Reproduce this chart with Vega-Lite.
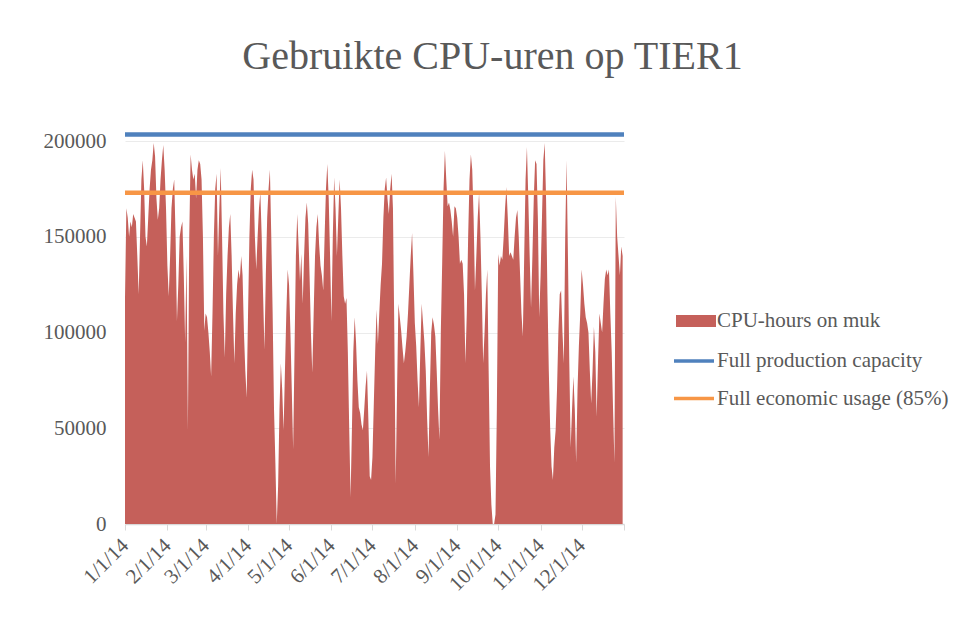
{
  "$schema": "https://vega.github.io/schema/vega-lite/v6.json",
  "width": 499,
  "height": 402,
  "autosize": {"type": "none"},
  "padding": {"left": 125, "top": 122, "right": 334, "bottom": 110},
  "background": "white",
  "title": {
    "text": "Gebruikte CPU-uren op TIER1",
    "font": "Liberation Serif",
    "fontSize": 40,
    "fontWeight": "normal",
    "color": "#595959",
    "anchor": "middle",
    "frame": "group",
    "dx": 118,
    "offset": 13,
    "baseline": "alphabetic"
  },
  "config": {
    "view": {"stroke": null},
    "axis": {"labelFont": "Liberation Serif", "labelColor": "#595959", "titleFont": "Liberation Serif"},
    "legend": {"labelFont": "Liberation Serif", "labelFontSize": 21, "labelColor": "#595959", "labelOffset": 1, "labelLimit": 400, "rowPadding": 5.5, "symbolSize": 1600}
  },
  "datasets": {
    "cpu": [
      {"date":"2014-01-01","hours":118000},{"date":"2014-01-02","hours":165000},{"date":"2014-01-03","hours":160000},{"date":"2014-01-04","hours":150000},{"date":"2014-01-05","hours":158000},{"date":"2014-01-06","hours":155000},{"date":"2014-01-07","hours":162000},{"date":"2014-01-08","hours":160000},{"date":"2014-01-09","hours":158000},{"date":"2014-01-10","hours":140000},{"date":"2014-01-11","hours":120000},{"date":"2014-01-12","hours":150000},{"date":"2014-01-13","hours":180000},{"date":"2014-01-14","hours":190000},{"date":"2014-01-15","hours":175000},{"date":"2014-01-16","hours":150000},{"date":"2014-01-17","hours":145000},{"date":"2014-01-18","hours":160000},{"date":"2014-01-19","hours":175000},{"date":"2014-01-20","hours":185000},{"date":"2014-01-21","hours":190000},{"date":"2014-01-22","hours":199000},{"date":"2014-01-23","hours":192000},{"date":"2014-01-24","hours":170000},{"date":"2014-01-25","hours":159000},{"date":"2014-01-26","hours":165000},{"date":"2014-01-27","hours":180000},{"date":"2014-01-28","hours":190000},{"date":"2014-01-29","hours":198000},{"date":"2014-01-30","hours":185000},{"date":"2014-01-31","hours":165000},
      {"date":"2014-02-01","hours":135000},{"date":"2014-02-02","hours":119000},{"date":"2014-02-03","hours":140000},{"date":"2014-02-04","hours":165000},{"date":"2014-02-05","hours":175000},{"date":"2014-02-06","hours":180000},{"date":"2014-02-07","hours":150000},{"date":"2014-02-08","hours":106000},{"date":"2014-02-09","hours":125000},{"date":"2014-02-10","hours":150000},{"date":"2014-02-11","hours":155000},{"date":"2014-02-12","hours":158000},{"date":"2014-02-13","hours":130000},{"date":"2014-02-14","hours":95000},{"date":"2014-02-15","hours":140000},{"date":"2014-02-16","hours":49000},{"date":"2014-02-17","hours":150000},{"date":"2014-02-18","hours":193000},{"date":"2014-02-19","hours":185000},{"date":"2014-02-20","hours":180000},{"date":"2014-02-21","hours":183000},{"date":"2014-02-22","hours":170000},{"date":"2014-02-23","hours":185000},{"date":"2014-02-24","hours":190000},{"date":"2014-02-25","hours":188000},{"date":"2014-02-26","hours":180000},{"date":"2014-02-27","hours":150000},{"date":"2014-02-28","hours":101000},
      {"date":"2014-03-01","hours":110000},{"date":"2014-03-02","hours":108000},{"date":"2014-03-03","hours":100000},{"date":"2014-03-04","hours":90000},{"date":"2014-03-05","hours":77000},{"date":"2014-03-06","hours":110000},{"date":"2014-03-07","hours":150000},{"date":"2014-03-08","hours":175000},{"date":"2014-03-09","hours":183000},{"date":"2014-03-10","hours":140000},{"date":"2014-03-11","hours":165000},{"date":"2014-03-12","hours":186000},{"date":"2014-03-13","hours":150000},{"date":"2014-03-14","hours":110000},{"date":"2014-03-15","hours":87000},{"date":"2014-03-16","hours":120000},{"date":"2014-03-17","hours":140000},{"date":"2014-03-18","hours":155000},{"date":"2014-03-19","hours":162000},{"date":"2014-03-20","hours":140000},{"date":"2014-03-21","hours":110000},{"date":"2014-03-22","hours":84000},{"date":"2014-03-23","hours":110000},{"date":"2014-03-24","hours":125000},{"date":"2014-03-25","hours":133000},{"date":"2014-03-26","hours":128000},{"date":"2014-03-27","hours":140000},{"date":"2014-03-28","hours":130000},{"date":"2014-03-29","hours":100000},{"date":"2014-03-30","hours":80000},{"date":"2014-03-31","hours":66000},
      {"date":"2014-04-01","hours":110000},{"date":"2014-04-02","hours":150000},{"date":"2014-04-03","hours":175000},{"date":"2014-04-04","hours":185000},{"date":"2014-04-05","hours":180000},{"date":"2014-04-06","hours":150000},{"date":"2014-04-07","hours":133000},{"date":"2014-04-08","hours":150000},{"date":"2014-04-09","hours":165000},{"date":"2014-04-10","hours":173000},{"date":"2014-04-11","hours":150000},{"date":"2014-04-12","hours":120000},{"date":"2014-04-13","hours":91000},{"date":"2014-04-14","hours":130000},{"date":"2014-04-15","hours":160000},{"date":"2014-04-16","hours":175000},{"date":"2014-04-17","hours":185000},{"date":"2014-04-18","hours":150000},{"date":"2014-04-19","hours":110000},{"date":"2014-04-20","hours":60000},{"date":"2014-04-21","hours":32000},{"date":"2014-04-22","hours":0},{"date":"2014-04-23","hours":20000},{"date":"2014-04-24","hours":60000},{"date":"2014-04-25","hours":84000},{"date":"2014-04-26","hours":70000},{"date":"2014-04-27","hours":49000},{"date":"2014-04-28","hours":80000},{"date":"2014-04-29","hours":110000},{"date":"2014-04-30","hours":133000},
      {"date":"2014-05-01","hours":125000},{"date":"2014-05-02","hours":100000},{"date":"2014-05-03","hours":70000},{"date":"2014-05-04","hours":39000},{"date":"2014-05-05","hours":90000},{"date":"2014-05-06","hours":140000},{"date":"2014-05-07","hours":162000},{"date":"2014-05-08","hours":145000},{"date":"2014-05-09","hours":127000},{"date":"2014-05-10","hours":141000},{"date":"2014-05-11","hours":115000},{"date":"2014-05-12","hours":140000},{"date":"2014-05-13","hours":160000},{"date":"2014-05-14","hours":168000},{"date":"2014-05-15","hours":157000},{"date":"2014-05-16","hours":130000},{"date":"2014-05-17","hours":100000},{"date":"2014-05-18","hours":79000},{"date":"2014-05-19","hours":110000},{"date":"2014-05-20","hours":140000},{"date":"2014-05-21","hours":155000},{"date":"2014-05-22","hours":162000},{"date":"2014-05-23","hours":146000},{"date":"2014-05-24","hours":135000},{"date":"2014-05-25","hours":130000},{"date":"2014-05-26","hours":122000},{"date":"2014-05-27","hours":150000},{"date":"2014-05-28","hours":175000},{"date":"2014-05-29","hours":188000},{"date":"2014-05-30","hours":170000},{"date":"2014-05-31","hours":140000},
      {"date":"2014-06-01","hours":106000},{"date":"2014-06-02","hours":150000},{"date":"2014-06-03","hours":181000},{"date":"2014-06-04","hours":165000},{"date":"2014-06-05","hours":140000},{"date":"2014-06-06","hours":160000},{"date":"2014-06-07","hours":180000},{"date":"2014-06-08","hours":165000},{"date":"2014-06-09","hours":140000},{"date":"2014-06-10","hours":119000},{"date":"2014-06-11","hours":115000},{"date":"2014-06-12","hours":118000},{"date":"2014-06-13","hours":90000},{"date":"2014-06-14","hours":50000},{"date":"2014-06-15","hours":14000},{"date":"2014-06-16","hours":50000},{"date":"2014-06-17","hours":90000},{"date":"2014-06-18","hours":108000},{"date":"2014-06-19","hours":95000},{"date":"2014-06-20","hours":75000},{"date":"2014-06-21","hours":61000},{"date":"2014-06-22","hours":58000},{"date":"2014-06-23","hours":52000},{"date":"2014-06-24","hours":49000},{"date":"2014-06-25","hours":60000},{"date":"2014-06-26","hours":72000},{"date":"2014-06-27","hours":80000},{"date":"2014-06-28","hours":55000},{"date":"2014-06-29","hours":25000},{"date":"2014-06-30","hours":23000},
      {"date":"2014-07-01","hours":35000},{"date":"2014-07-02","hours":63000},{"date":"2014-07-03","hours":90000},{"date":"2014-07-04","hours":112000},{"date":"2014-07-05","hours":94000},{"date":"2014-07-06","hours":110000},{"date":"2014-07-07","hours":125000},{"date":"2014-07-08","hours":136000},{"date":"2014-07-09","hours":160000},{"date":"2014-07-10","hours":175000},{"date":"2014-07-11","hours":181000},{"date":"2014-07-12","hours":170000},{"date":"2014-07-13","hours":162000},{"date":"2014-07-14","hours":175000},{"date":"2014-07-15","hours":183000},{"date":"2014-07-16","hours":165000},{"date":"2014-07-17","hours":100000},{"date":"2014-07-18","hours":21000},{"date":"2014-07-19","hours":70000},{"date":"2014-07-20","hours":115000},{"date":"2014-07-21","hours":108000},{"date":"2014-07-22","hours":101000},{"date":"2014-07-23","hours":92000},{"date":"2014-07-24","hours":84000},{"date":"2014-07-25","hours":90000},{"date":"2014-07-26","hours":98000},{"date":"2014-07-27","hours":110000},{"date":"2014-07-28","hours":125000},{"date":"2014-07-29","hours":140000},{"date":"2014-07-30","hours":152000},{"date":"2014-07-31","hours":130000},
      {"date":"2014-08-01","hours":105000},{"date":"2014-08-02","hours":93000},{"date":"2014-08-03","hours":75000},{"date":"2014-08-04","hours":61000},{"date":"2014-08-05","hours":90000},{"date":"2014-08-06","hours":115000},{"date":"2014-08-07","hours":105000},{"date":"2014-08-08","hours":95000},{"date":"2014-08-09","hours":80000},{"date":"2014-08-10","hours":55000},{"date":"2014-08-11","hours":35000},{"date":"2014-08-12","hours":70000},{"date":"2014-08-13","hours":100000},{"date":"2014-08-14","hours":108000},{"date":"2014-08-15","hours":104000},{"date":"2014-08-16","hours":98000},{"date":"2014-08-17","hours":80000},{"date":"2014-08-18","hours":60000},{"date":"2014-08-19","hours":44000},{"date":"2014-08-20","hours":100000},{"date":"2014-08-21","hours":136000},{"date":"2014-08-22","hours":175000},{"date":"2014-08-23","hours":195000},{"date":"2014-08-24","hours":180000},{"date":"2014-08-25","hours":166000},{"date":"2014-08-26","hours":168000},{"date":"2014-08-27","hours":164000},{"date":"2014-08-28","hours":158000},{"date":"2014-08-29","hours":150000},{"date":"2014-08-30","hours":166000},{"date":"2014-08-31","hours":165000},
      {"date":"2014-09-01","hours":160000},{"date":"2014-09-02","hours":150000},{"date":"2014-09-03","hours":136000},{"date":"2014-09-04","hours":138000},{"date":"2014-09-05","hours":136000},{"date":"2014-09-06","hours":120000},{"date":"2014-09-07","hours":84000},{"date":"2014-09-08","hours":110000},{"date":"2014-09-09","hours":150000},{"date":"2014-09-10","hours":180000},{"date":"2014-09-11","hours":193000},{"date":"2014-09-12","hours":185000},{"date":"2014-09-13","hours":160000},{"date":"2014-09-14","hours":122000},{"date":"2014-09-15","hours":140000},{"date":"2014-09-16","hours":160000},{"date":"2014-09-17","hours":173000},{"date":"2014-09-18","hours":150000},{"date":"2014-09-19","hours":120000},{"date":"2014-09-20","hours":84000},{"date":"2014-09-21","hours":100000},{"date":"2014-09-22","hours":120000},{"date":"2014-09-23","hours":133000},{"date":"2014-09-24","hours":80000},{"date":"2014-09-25","hours":30000},{"date":"2014-09-26","hours":10000},{"date":"2014-09-27","hours":0},{"date":"2014-09-28","hours":0},{"date":"2014-09-29","hours":5000},{"date":"2014-09-30","hours":60000},
      {"date":"2014-10-01","hours":141000},{"date":"2014-10-02","hours":135000},{"date":"2014-10-03","hours":140000},{"date":"2014-10-04","hours":138000},{"date":"2014-10-05","hours":150000},{"date":"2014-10-06","hours":165000},{"date":"2014-10-07","hours":176000},{"date":"2014-10-08","hours":160000},{"date":"2014-10-09","hours":140000},{"date":"2014-10-10","hours":142000},{"date":"2014-10-11","hours":140000},{"date":"2014-10-12","hours":138000},{"date":"2014-10-13","hours":150000},{"date":"2014-10-14","hours":160000},{"date":"2014-10-15","hours":164000},{"date":"2014-10-16","hours":150000},{"date":"2014-10-17","hours":130000},{"date":"2014-10-18","hours":110000},{"date":"2014-10-19","hours":98000},{"date":"2014-10-20","hours":140000},{"date":"2014-10-21","hours":180000},{"date":"2014-10-22","hours":197000},{"date":"2014-10-23","hours":170000},{"date":"2014-10-24","hours":140000},{"date":"2014-10-25","hours":113000},{"date":"2014-10-26","hours":140000},{"date":"2014-10-27","hours":170000},{"date":"2014-10-28","hours":190000},{"date":"2014-10-29","hours":188000},{"date":"2014-10-30","hours":160000},{"date":"2014-10-31","hours":108000},
      {"date":"2014-11-01","hours":130000},{"date":"2014-11-02","hours":160000},{"date":"2014-11-03","hours":190000},{"date":"2014-11-04","hours":199000},{"date":"2014-11-05","hours":170000},{"date":"2014-11-06","hours":120000},{"date":"2014-11-07","hours":80000},{"date":"2014-11-08","hours":50000},{"date":"2014-11-09","hours":30000},{"date":"2014-11-10","hours":23000},{"date":"2014-11-11","hours":40000},{"date":"2014-11-12","hours":49000},{"date":"2014-11-13","hours":70000},{"date":"2014-11-14","hours":100000},{"date":"2014-11-15","hours":120000},{"date":"2014-11-16","hours":122000},{"date":"2014-11-17","hours":100000},{"date":"2014-11-18","hours":84000},{"date":"2014-11-19","hours":150000},{"date":"2014-11-20","hours":190000},{"date":"2014-11-21","hours":140000},{"date":"2014-11-22","hours":84000},{"date":"2014-11-23","hours":40000},{"date":"2014-11-24","hours":60000},{"date":"2014-11-25","hours":77000},{"date":"2014-11-26","hours":60000},{"date":"2014-11-27","hours":32000},{"date":"2014-11-28","hours":70000},{"date":"2014-11-29","hours":93000},{"date":"2014-11-30","hours":110000},
      {"date":"2014-12-01","hours":133000},{"date":"2014-12-02","hours":125000},{"date":"2014-12-03","hours":115000},{"date":"2014-12-04","hours":108000},{"date":"2014-12-05","hours":105000},{"date":"2014-12-06","hours":100000},{"date":"2014-12-07","hours":80000},{"date":"2014-12-08","hours":63000},{"date":"2014-12-09","hours":80000},{"date":"2014-12-10","hours":103000},{"date":"2014-12-11","hours":90000},{"date":"2014-12-12","hours":56000},{"date":"2014-12-13","hours":85000},{"date":"2014-12-14","hours":110000},{"date":"2014-12-15","hours":105000},{"date":"2014-12-16","hours":100000},{"date":"2014-12-17","hours":115000},{"date":"2014-12-18","hours":128000},{"date":"2014-12-19","hours":133000},{"date":"2014-12-20","hours":130000},{"date":"2014-12-21","hours":133000},{"date":"2014-12-22","hours":110000},{"date":"2014-12-23","hours":90000},{"date":"2014-12-24","hours":60000},{"date":"2014-12-25","hours":32000},{"date":"2014-12-26","hours":171000},{"date":"2014-12-27","hours":150000},{"date":"2014-12-28","hours":140000},{"date":"2014-12-29","hours":130000},{"date":"2014-12-30","hours":145000},{"date":"2014-12-31","hours":140000}
    ],
    "refs": [
      {"series": "Full production capacity", "value": 203500},
      {"series": "Full economic usage (85%)", "value": 173000}
    ]
  },
  "layer": [
    {
      "data": {"name": "cpu"},
      "mark": {"type": "area", "opacity": 1, "interpolate": "linear"},
      "encoding": {
        "x": {
          "field": "date",
          "type": "temporal",
          "scale": {"type": "utc", "domain": [1388534400000, 1420070400000], "nice": false},
          "axis": {
            "title": null,
            "grid": false,
            "tickCount": {"interval": "month", "step": 1},
            "labelExpr": "utcyear(datum.value) > 2014 ? '' : utcFormat(datum.value, '%-m/%-d/%y')",
            "labelAngle": -45,
            "labelAlign": "right",
            "labelBaseline": "middle",
            "labelFontSize": 21,
            "labelPadding": 12,
            "domainColor": "#d9d9d9",
            "domainWidth": 1.5,
            "tickColor": "#d9d9d9",
            "tickSize": 6,
            "labelOverlap": false,
            "labelFlush": false
          }
        },
        "y": {
          "field": "hours",
          "type": "quantitative",
          "scale": {"domain": [0, 210000], "nice": false},
          "axis": {
            "title": null,
            "values": [0, 50000, 100000, 150000, 200000],
            "format": "d",
            "domain": false,
            "ticks": false,
            "labelFontSize": 21,
            "labelPadding": 19,
            "grid": true,
            "gridColor": "#ebebeb",
            "gridWidth": 1
          }
        },
        "fill": {
          "datum": "CPU-hours on muk",
          "type": "nominal",
          "title": null,
          "scale": {"domain": ["CPU-hours on muk"], "range": ["#c5605a"]},
          "legend": {
            "title": null,
            "orient": "none",
            "legendX": 551,
            "legendY": 179,
            "symbolType": "M-1,-0.3H1V0.3H-1Z",
            "symbolStrokeWidth": 0,
            "symbolOpacity": 1
          }
        }
      }
    },
    {
      "data": {"name": "refs"},
      "mark": {"type": "rule", "strokeWidth": 4.5},
      "encoding": {
        "y": {"field": "value", "type": "quantitative"},
        "stroke": {
          "field": "series",
          "type": "nominal",
          "title": null,
          "scale": {"domain": ["Full production capacity", "Full economic usage (85%)"], "range": ["#4f81bd", "#f79646"]},
          "legend": {
            "title": null,
            "orient": "none",
            "legendX": 547,
            "legendY": 217,
            "symbolType": "M-1,0H1",
            "symbolStrokeWidth": 3.5,
            "symbolOpacity": 1
          }
        }
      }
    }
  ]
}
